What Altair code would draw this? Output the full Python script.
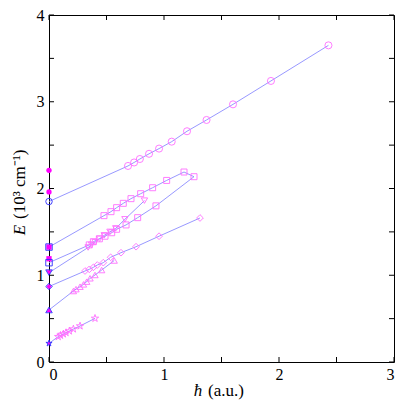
import altair as alt
import pandas as pd

# ---- data ----
circ_x = [0, 0.687, 0.74, 0.79, 0.87, 0.957, 1.067, 1.20, 1.37, 1.60, 1.93, 2.43]
circ_y = [1.85, 2.26, 2.30, 2.34, 2.40, 2.46, 2.54, 2.66, 2.79, 2.97, 3.24, 3.65]

sq_x = [0, 0.478, 0.539, 0.588, 0.646, 0.713, 0.797, 0.901, 1.023, 1.174, 1.261,
        0.93, 0.771, 0.67, 0.588, 0.545, 0.487, 0.438, 0.386, 0.35, 0]
sq_y = [1.325, 1.687, 1.733, 1.779, 1.829, 1.883, 1.94, 2.009, 2.093, 2.19, 2.136,
        1.80, 1.664, 1.58, 1.53, 1.49, 1.45, 1.42, 1.387, 1.35, 1.145]

tdn_x = [0, 0.34, 0.37, 0.40, 0.44, 0.48, 0.53, 0.58, 0.66, 0.83]
tdn_y = [1.03, 1.32, 1.35, 1.38, 1.42, 1.46, 1.50, 1.54, 1.645, 1.86]

dia_x = [0, 0.313, 0.35, 0.386, 0.42, 0.472, 0.536, 0.626, 0.757, 0.957, 1.313]
dia_y = [0.87, 1.049, 1.068, 1.091, 1.118, 1.145, 1.207, 1.26, 1.329, 1.45, 1.66]

tup_x = [0, 0.212, 0.235, 0.27, 0.30, 0.328, 0.357, 0.40, 0.458, 0.567]
tup_y = [0.60, 0.818, 0.84, 0.868, 0.895, 0.926, 0.965, 1.003, 1.06, 1.17]

star_x = [0, 0.08, 0.10, 0.125, 0.148, 0.177, 0.212, 0.27, 0.40]
star_y = [0.215, 0.292, 0.307, 0.323, 0.338, 0.357, 0.38, 0.415, 0.503]

series_names = ["circle", "square", "tdown", "diamond", "tup", "star"]
series_size = [50, 36, 40, 45, 40, 60]

ref_series = ["circle", "circle", "square", "square", "tdown", "diamond", "tup", "star"]
ref_y = [2.21, 1.96, 1.325, 1.19, 1.03, 0.87, 0.60, 0.215]

x_ticks = [0, 0.5, 1, 1.5, 2, 2.5, 3]
y_ticks = [0, 0.5, 1, 1.5, 2, 2.5, 3, 3.5, 4]
x_labels = [0, 1, 2, 3]
y_labels = [0, 1, 2, 3, 4]

# ---- build tables ----
W, H = 345, 347
FONT = "Liberation Serif"
STAR = ("M0,-1L0.2245,-0.309L0.951,-0.309L0.363,0.118L0.588,0.809L0,0.382"
        "L-0.588,0.809L-0.363,0.118L-0.951,-0.309L-0.2245,-0.309Z")
shape_range = ["circle", "square", "triangle-down", "diamond", "triangle-up", STAR]
size_of = dict(zip(series_names, series_size))

rows = []
for name, xs_, ys_ in zip(series_names,
                          [circ_x, sq_x, tdn_x, dia_x, tup_x, star_x],
                          [circ_y, sq_y, tdn_y, dia_y, tup_y, star_y]):
    for i, (x, y) in enumerate(zip(xs_, ys_)):
        rows.append(dict(series=name, x=x, y=y, i=i, sz=size_of[name]))
df = pd.DataFrame(rows)
ref = pd.DataFrame(dict(series=ref_series, x=[0] * len(ref_y), y=ref_y))
xt = pd.DataFrame(dict(x=x_ticks))
yt = pd.DataFrame(dict(y=y_ticks))

xsc = alt.Scale(domain=[0, 3], nice=False, zero=False)
ysc = alt.Scale(domain=[0, 4], nice=False, zero=False)
shape_enc = alt.Shape("series:N", scale=alt.Scale(domain=series_names, range=shape_range), legend=None)

xaxis = alt.Axis(values=x_labels, format="d", ticks=False, domain=False, grid=False, title=None,
                 labelFont=FONT, labelFontSize=16, labelColor="black", labelPadding=4)
yaxis = alt.Axis(values=y_labels, format="d", ticks=False, domain=False, grid=False, title=None,
                 labelFont=FONT, labelFontSize=16, labelColor="black", labelPadding=5)

X = alt.X("x:Q", scale=xsc, axis=xaxis)
Y = alt.Y("y:Q", scale=ysc, axis=yaxis)

lines = alt.Chart(df).mark_line(color="#8c8cff", strokeWidth=0.9).encode(
    x=X, y=Y, detail="series:N", order="i:Q")

pts = alt.Chart(df).transform_filter("datum.x > 0").mark_point(
    filled=False, color="#ff6eff", strokeWidth=0.9, opacity=1).encode(
    x=X, y=Y, shape=shape_enc, size=alt.Size("sz:Q", scale=None))

refpts = alt.Chart(ref).mark_point(filled=True, color="#ff00ff", size=28, opacity=1).encode(
    x=X, y=Y, shape=shape_enc)

extrap = alt.Chart(df).transform_filter("datum.x == 0").mark_point(
    filled=False, color="#3030ff", strokeWidth=0.9, size=42, opacity=1).encode(
    x=X, y=Y, shape=shape_enc)

TL = 5
tick_b = alt.Chart(xt).mark_rule(color="black", strokeWidth=1).encode(
    x=X, y=alt.value(H), y2=alt.value(H - TL))
tick_t = alt.Chart(xt).mark_rule(color="black", strokeWidth=1).encode(
    x=X, y=alt.value(0), y2=alt.value(TL))
tick_l = alt.Chart(yt).mark_rule(color="black", strokeWidth=1).encode(
    y=Y, x=alt.value(0), x2=alt.value(TL))
tick_r = alt.Chart(yt).mark_rule(color="black", strokeWidth=1).encode(
    y=Y, x=alt.value(W), x2=alt.value(W - TL))

t_df = pd.DataFrame(dict(t=["E", "(10³ cm⁻¹)", "ħ", "(a.u.)"]))
ytitle_e = alt.Chart(t_df).transform_filter("datum.t == 'E'").mark_text(
    font=FONT, fontSize=17, fontStyle="italic", angle=270, align="center", baseline="middle", color="black"
).encode(text="t:N", x=alt.value(-29), y=alt.value(215))
ytitle_r = alt.Chart(t_df).transform_filter("datum.t == '(10³ cm⁻¹)'").mark_text(
    font=FONT, fontSize=17, angle=270, align="left", baseline="middle", color="black"
).encode(text="t:N", x=alt.value(-29), y=alt.value(204))
xtitle_h = alt.Chart(t_df).transform_filter("datum.t == 'ħ'").mark_text(
    font=FONT, fontSize=17, fontStyle="italic", align="center", baseline="middle", color="black"
).encode(text="t:N", x=alt.value(149), y=alt.value(376))
xtitle_r = alt.Chart(t_df).transform_filter("datum.t == '(a.u.)'").mark_text(
    font=FONT, fontSize=17, align="left", baseline="middle", color="black"
).encode(text="t:N", x=alt.value(159), y=alt.value(376))

chart = alt.layer(
    lines, pts, refpts, extrap, tick_b, tick_t, tick_l, tick_r,
    ytitle_e, ytitle_r, xtitle_h, xtitle_r
).properties(
    width=W, height=H,
    autosize=alt.AutoSizeParams(type="none"),
    padding={"left": 41, "top": 7, "right": 3, "bottom": 40},
    background="white",
).configure_view(
    stroke="black", strokeWidth=1
).configure_axis(
    labelFont=FONT, labelFontSize=16, labelColor="black"
)

chart.save("out.html", embed_options={"renderer": "svg", "actions": False})
